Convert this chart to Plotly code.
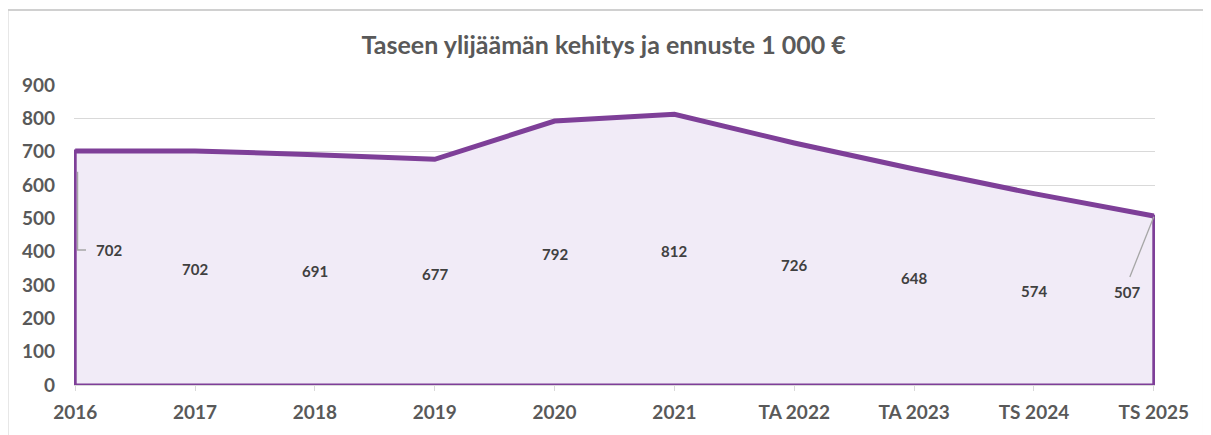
import plotly.graph_objects as go

# Data
years = ["2016", "2017", "2018", "2019", "2020", "2021", "TA 2022", "TA 2023", "TS 2024", "TS 2025"]
surplus = [702, 702, 691, 677, 792, 812, 726, 648, 574, 507]
title_text = "Taseen ylijäämän kehitys ja ennuste 1 000 €"

PURPLE = "#7e3f98"
FILL = "#f1ebf7"
GRID = "#d9d9d9"
TXT = "#595959"
LBL = "#404040"
FONT = "Lato, sans-serif"

fig = go.Figure()

# closed outline of the area (sides + bottom)
xs = [years[0]] + years + [years[-1], years[0]]
ys = [0] + surplus + [0, 0]
fig.add_trace(go.Scatter(
    x=xs, y=ys, mode="lines", fill="toself", fillcolor=FILL,
    line=dict(color=PURPLE, width=3), hoverinfo="skip", showlegend=False,
))
# thicker top line
fig.add_trace(go.Scatter(
    x=years, y=surplus, mode="lines",
    line=dict(color=PURPLE, width=5), showlegend=False,
))

# data labels sit at about half the value, inside the area
label_y = [v / 2 - 4 for v in surplus]
label_x = list(range(len(years)))
label_x[0] = 0.28      # first label pulled right with leader
label_x[-1] = 8.78     # last label pulled left with leader
label_y[0] = 405
label_y[-1] = 279
for lx, ly, v in zip(label_x, label_y, surplus):
    fig.add_annotation(x=lx, y=ly, text=f"<b>{v}</b>", showarrow=False,
                       font=dict(family=FONT, size=15, color=LBL))

# leader lines
fig.add_shape(type="path", path="M 0.02,640 L 0.02,405 L 0.09,405",
              xref="x", yref="y", line=dict(color="#a6a6a6", width=1.3))
fig.add_shape(type="line", x0=8.8, y0=324, x1=9, y1=505,
              xref="x", yref="y", line=dict(color="#a6a6a6", width=1.3))

# outer chart border
fig.add_shape(type="rect", xref="paper", yref="paper",
              x0=-0.0615, x1=1.0453, y0=-0.25, y1=1.25,
              line=dict(color="#d0d0d0", width=2))

# page body has an 8px margin, so the figure is a bit smaller
fig.update_layout(
    width=1203, height=427,
    margin=dict(l=66, r=56, t=77, b=50),
    paper_bgcolor="white", plot_bgcolor="white",
    font=dict(family=FONT, color=TXT),
    title=dict(text=f"<b>{title_text}</b>", x=0.49, xref="paper", xanchor="center",
               y=1 - 37 / 427, yref="container", yanchor="middle",
               font=dict(family=FONT, size=25, color=TXT)),
    showlegend=False,
)
fig.update_xaxes(
    type="category", range=[-0.01, 9.01],
    showgrid=False, showline=True, linecolor=GRID, linewidth=1,
    ticks="outside", ticklen=5, tickcolor=GRID,
    tickfont=dict(family=FONT, size=19, color=TXT),
    tickprefix="<b>", ticksuffix="</b>", ticklabelstandoff=5,
)
fig.update_yaxes(
    range=[0, 900], dtick=100, showgrid=True, gridcolor=GRID, gridwidth=1.3,
    zeroline=False, showline=False,
    tickfont=dict(family=FONT, size=19, color=TXT),
    tickprefix="<b>", ticksuffix="</b>", ticklabelstandoff=18,
)

fig.write_html("out.html")
